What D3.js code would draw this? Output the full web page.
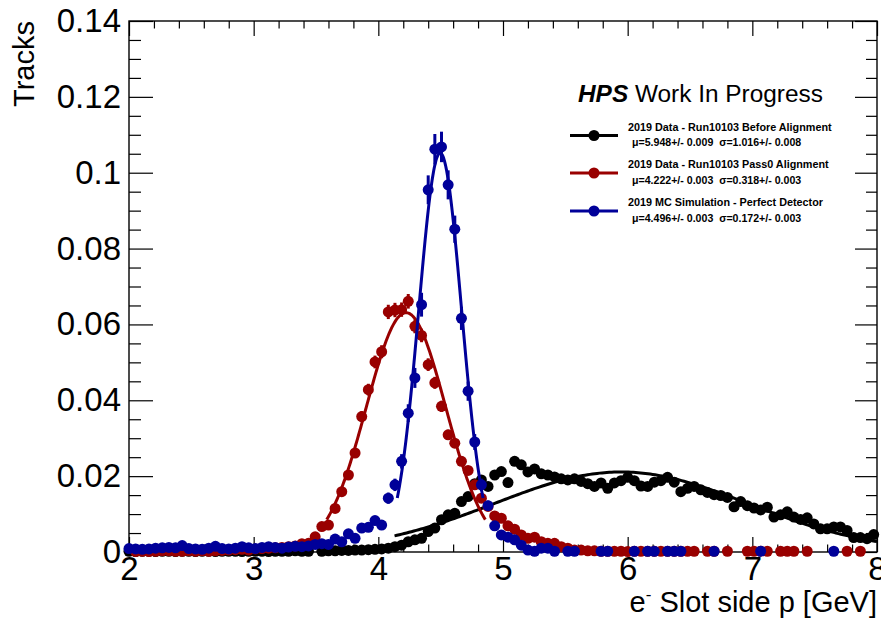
<!DOCTYPE html>
<html>
<head>
<meta charset="utf-8">
<script src="https://d3js.org/d3.v7.min.js"></script>
<style>
  body { margin: 0; background: #fff; }
  text { font-family: "Liberation Sans", Arial, sans-serif; }
</style>
</head>
<body>
<div id="chart"></div>
<script>
// histogram: 150 bins over [0, 8] GeV, the visible part starts at bin 37 (centre 2.0)
var binLo = 0, binHi = 8, nBins = 150, firstBin = 37;

// bin contents, one per visible bin
var blackVals = [
  0.0002,0.0001,0.0002,0.0002,0.0001,0.0002,0.0002,0.0001,0.0002,0.0002,
  0.0001,0.0002,0.0002,0.0001,0.0002,0.0002,0.0002,0.0001,0.0002,0.0002,
  0.0002,0.0001,0.0002,0.0002,0.0002,0.0003,0.0002,0.0002,0,0.0002,
  0.0003,0.0003,0.0004,0.0004,0.0005,0.0005,0.0006,0.0007,0.0008,0.0010,
  0.0014,0.0018,0.0027,0.0032,0.0036,0.0054,0.0063,0.0085,0.0098,0.0102,
  0.0133,0.0146,0.0180,0.0190,0.0173,0.0203,0.0212,0.0183,0.0239,0.0230,
  0.0211,0.0219,0.0206,0.0203,0.0198,0.0193,0.0190,0.0193,0.0186,0.0180,
  0.0173,0.0182,0.0168,0.0182,0.0188,0.0197,0.0188,0.0174,0.0173,0.0184,
  0.0188,0.0197,0.0184,0.0159,0.0168,0.0173,0.0164,0.0157,0.0151,0.0149,
  0.0144,0.0119,0.0133,0.0122,0.0116,0.0111,0.0118,0.0092,0.0098,0.0106,
  0.0092,0.0086,0.0090,0.0074,0.0061,0.0061,0.0066,0.0066,0.0057,0.0038,
  0.0038,0.0035,0.0046
];
var redVals = [
  0,0.0001,0.0002,0.0001,0.0002,0.0003,0.0003,0.0002,0.0002,0.0003,
  0.0002,0.0003,0.0002,0.0003,0.0004,0.0005,0.0006,0.0007,0.0005,0.0008,
  0.0009,0.0010,0.0011,0.0012,0.0014,0.0016,0.0022,0.0023,0.0040,0.0067,
  0.0071,0.0115,0.0159,0.0203,0.0261,0.0357,0.0428,0.0501,0.0528,0.0633,
  0.0638,0.0639,0.0661,0.0595,0.0571,0.0494,0.0446,0.0384,0.0309,0.0287,
  0.0239,0.0215,0.0177,0.0142,0.0120,0.0095,0.0089,0.0069,0.0060,0.0045,
  0.0036,0.0039,0.0027,0.0023,0.0023,0.0014,0.0010,0.0005,0.0005,0.0003,
  0.0003,0.0002,0.0002,0.0002,0.0002,0.0001,0.0002,0.0002,0.0002,0.0002,
  0.0002,0.0002,0.0002,0.0002,0.0002,0.0002,0,0.0002,0.0002,0,
  0.0002,0,0,0.0002,0.0002,0.0002,0.0002,0,0.0002,0.0002,
  0.0002,0,0.0002,0,0,0,0,0,0.0002,0,
  0.0002,0,0
];
var blueVals = [
  0.0009,0.0008,0.0007,0.0008,0.0010,0.0011,0.0012,0.0011,0.0017,0.0009,
  0.0008,0.0007,0.0010,0.0015,0.0009,0.0008,0.0010,0.0014,0.0011,0.0009,
  0.0012,0.0014,0.0012,0.0010,0.0013,0.0015,0.0014,0.0016,0.0020,0.0022,
  0.0020,0.0034,0.0027,0.0048,0.0036,0.0063,0.0065,0.0083,0.0071,0.0142,
  0.0177,0.0239,0.0366,0.0459,0.0652,0.0955,0.1062,0.1068,0.0968,0.0851,
  0.0616,0.0424,0.0290,0.0177,0.0122,0.0069,0.0045,0.0039,0.0032,0.0018,
  0.0005,0.0002,0.0010,0.0010,0.0002,0,0.0002,0.0002,0,0,
  0,0.0002,0.0002,0,0,0,0.0002,0,0.0002,0.0002,
  0,0.0002,0.0002,0.0002,0,0,0,0,0.0002,0,
  0,0,0,0,0,0.0002,0,0,0,0,
  0,0,0,0,0,0,0.0002,0,0,0,
  0,0,0
];

// statistical error scale per series (err = scale * sqrt(content))
var errScale = [0.006, 0.0075, 0.0123];

// gaussian fits (mu, sigma from the legend; amplitude and range)
var fitMu = [5.948, 4.222, 4.496];
var fitSigma = [1.016, 0.318, 0.172];
var fitAmp = [0.0211, 0.0631, 0.1052];
var fitLo = [4.13, 3.586, 4.152];
var fitHi = [8.0, 4.858, 4.84];

var colors = ["#000000", "#990000", "#000099"];
var legendNames = [
  "2019 Data - Run10103 Before Alignment",
  "2019 Data - Run10103 Pass0 Alignment",
  "2019 MC Simulation - Perfect Detector"
];
var legendFits = [
  "\u03bc=5.948+/- 0.009  \u03c3=1.016+/- 0.008",
  "\u03bc=4.222+/- 0.003  \u03c3=0.318+/- 0.003",
  "\u03bc=4.496+/- 0.003  \u03c3=0.172+/- 0.003"
];

var xTicks = [2, 3, 4, 5, 6, 7, 8];
var xTickLabels = ["2", "3", "4", "5", "6", "7", "8"];
var yTicks = [0, 0.02, 0.04, 0.06, 0.08, 0.1, 0.12, 0.14];
var yTickLabels = ["0", "0.02", "0.04", "0.06", "0.08", "0.1", "0.12", "0.14"];

var W = 881, H = 619;
var margin = {top: 21, right: 4, bottom: 67, left: 129},
    width = W - margin.left - margin.right,
    height = H - margin.top - margin.bottom;

var svg = d3.select("#chart").append("svg")
    .attr("width", W).attr("height", H);
var g = svg.append("g")
    .attr("transform", "translate(" + margin.left + "," + margin.top + ")");

var x = d3.scaleLinear().domain([2, 8]).range([0, width]);
var y = d3.scaleLinear().domain([0, 0.14]).range([height, 0]);

var binW = (binHi - binLo) / nBins;
function binCentre(i) { return binLo + (firstBin + i + 0.5) * binW; }

var xMinor = d3.range(2, 8.001, 0.2).filter(function(v) { return Math.abs(v - Math.round(v)) > 1e-6; });
var yMinor = d3.range(0, 0.1401, 0.005).filter(function(v) { return Math.abs(v / 0.02 - Math.round(v / 0.02)) > 1e-6; });

function tickAxis(axis, sel) {
  sel.call(axis);
  sel.select(".domain").remove();
  sel.selectAll("line").attr("stroke", "#000").attr("stroke-width", 1.2);
}

// bottom axis with labels
var xLabelMap = {};
xTicks.forEach(function(t, i) { xLabelMap[t] = xTickLabels[i]; });
tickAxis(d3.axisBottom(x).tickValues(xTicks).tickSize(-15).tickPadding(5)
    .tickFormat(function(d) { return xLabelMap[d]; }),
  g.append("g").attr("transform", "translate(0," + height + ")"));
tickAxis(d3.axisBottom(x).tickValues(xMinor).tickSize(-7.5).tickFormat(""),
  g.append("g").attr("transform", "translate(0," + height + ")"));
// top axis, ticks only
tickAxis(d3.axisTop(x).tickValues(xTicks).tickSize(-15).tickFormat(""), g.append("g"));
tickAxis(d3.axisTop(x).tickValues(xMinor).tickSize(-7.5).tickFormat(""), g.append("g"));

// left axis with labels
var yLabelMap = {};
yTicks.forEach(function(t, i) { yLabelMap[t] = yTickLabels[i]; });
tickAxis(d3.axisLeft(y).tickValues(yTicks).tickSize(-24).tickPadding(8)
    .tickFormat(function(d) { return yLabelMap[d]; }), g.append("g"));
tickAxis(d3.axisLeft(y).tickValues(yMinor).tickSize(-12).tickFormat(""), g.append("g"));
// right axis, ticks only
tickAxis(d3.axisRight(y).tickValues(yTicks).tickSize(-22).tickFormat(""),
  g.append("g").attr("transform", "translate(" + width + ",0)"));
tickAxis(d3.axisRight(y).tickValues(yMinor).tickSize(-11).tickFormat(""),
  g.append("g").attr("transform", "translate(" + width + ",0)"));

g.selectAll(".tick text")
  .attr("fill", "#000")
  .style("font-family", "'Liberation Sans', Arial, sans-serif")
  .style("font-size", "33px");

// frame
g.append("rect")
  .attr("width", width).attr("height", height)
  .attr("fill", "none").attr("stroke", "#000").attr("stroke-width", 1.4);

// data + fits, drawn black, red, blue
var allVals = [blackVals, redVals, blueVals];
var plot = g.append("g");
allVals.forEach(function(vals, s) {
  var pts = vals.map(function(v, i) { return {x: binCentre(i), v: v}; })
    .filter(function(d) { return d.v > 0 && d.x >= 2 && d.x <= 8; });
  var sg = plot.append("g");
  sg.selectAll("line.err").data(pts).enter().append("line")
    .attr("class", "err")
    .attr("x1", function(d) { return x(d.x); })
    .attr("x2", function(d) { return x(d.x); })
    .attr("y1", function(d) { return y(Math.max(0, d.v - errScale[s] * Math.sqrt(d.v))); })
    .attr("y2", function(d) { return y(d.v + errScale[s] * Math.sqrt(d.v)); })
    .attr("stroke", colors[s]).attr("stroke-width", 3);
  sg.selectAll("circle").data(pts).enter().append("circle")
    .attr("cx", function(d) { return x(d.x); })
    .attr("cy", function(d) { return y(d.v); })
    .attr("r", 5.5)
    .attr("fill", colors[s]);

  var fx = d3.range(fitLo[s], fitHi[s] + 1e-9, (fitHi[s] - fitLo[s]) / 200);
  var line = d3.line()
    .x(function(t) { return x(t); })
    .y(function(t) {
      var z = (t - fitMu[s]) / fitSigma[s];
      return y(fitAmp[s] * Math.exp(-0.5 * z * z));
    });
  sg.append("path").datum(fx)
    .attr("d", line)
    .attr("fill", "none")
    .attr("stroke", colors[s])
    .attr("stroke-width", 3);
});

// axis titles
svg.append("text")
  .attr("transform", "translate(34,21) rotate(-90)")
  .attr("text-anchor", "end")
  .style("font-size", "29px")
  .text("Tracks");

var xt = svg.append("text")
  .attr("x", 877).attr("y", 612)
  .attr("text-anchor", "end")
  .style("font-size", "29px");
xt.append("tspan").text("e");
xt.append("tspan").attr("dy", -12).style("font-size", "17px").text("-");
xt.append("tspan").attr("dy", 12).text(" Slot side p [GeV]");

// legend
var hdr = svg.append("text").attr("x", 578).attr("y", 102).style("font-size", "24.4px");
hdr.append("tspan").style("font-weight", "bold").style("font-style", "italic").text("HPS");
hdr.append("tspan").text(" Work In Progress");

var legY = [135.5, 173, 211];
legendNames.forEach(function(name, i) {
  svg.append("line")
    .attr("x1", 570).attr("x2", 618)
    .attr("y1", legY[i]).attr("y2", legY[i])
    .attr("stroke", colors[i]).attr("stroke-width", 3);
  svg.append("circle")
    .attr("cx", 594).attr("cy", legY[i]).attr("r", 5.5)
    .attr("fill", colors[i]);
  svg.append("text")
    .attr("x", 628).attr("y", legY[i] - 5)
    .style("font-size", "10.8px").style("font-weight", "bold")
    .text(name);
  svg.append("text")
    .attr("x", 632).attr("y", legY[i] + 10.5)
    .style("font-size", "10.6px").style("font-weight", "bold")
    .attr("xml:space", "preserve")
    .text(legendFits[i]);
});
</script>
</body>
</html>
